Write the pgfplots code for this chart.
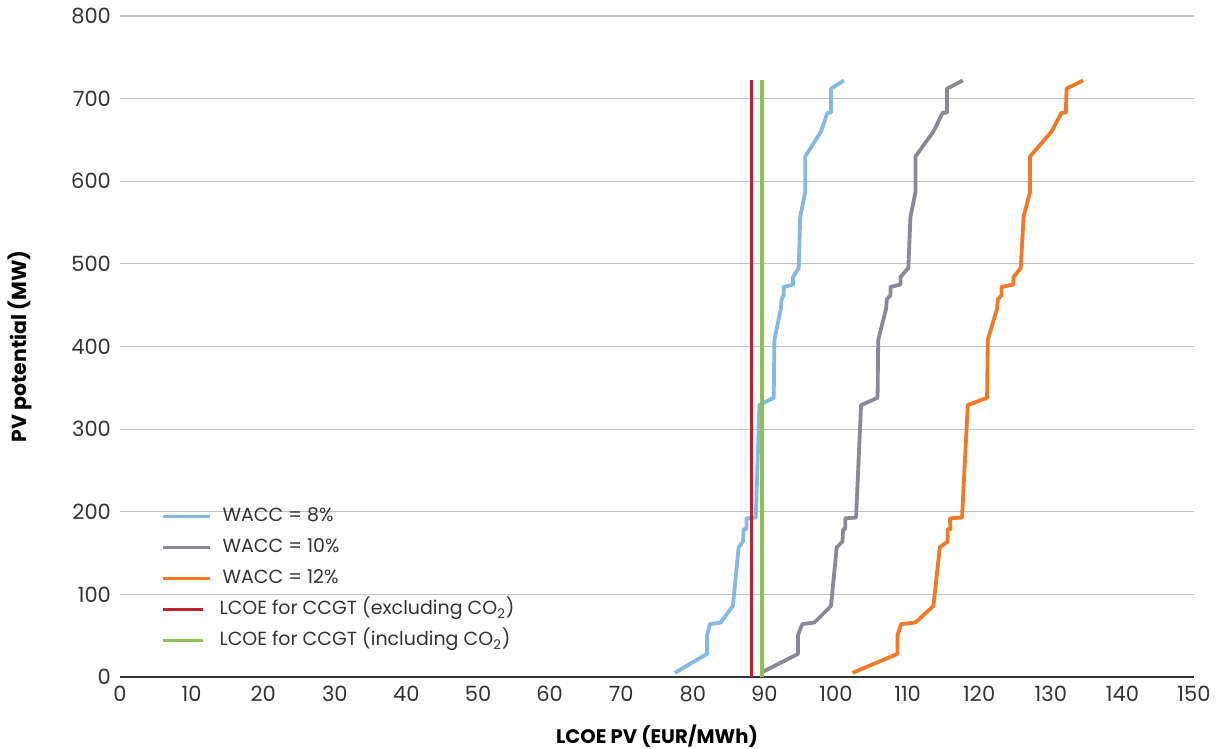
\documentclass[border=0pt]{standalone}
\usepackage{fontspec}
\setmainfont{Poppins}
\usepackage{pgfplots}
\pgfplotsset{compat=1.18}
\definecolor{cblue}{HTML}{85B9E3}
\definecolor{cgray}{HTML}{8A8A96}
\definecolor{corange}{HTML}{F07A25}
\definecolor{cred}{HTML}{C01F2F}
\definecolor{cgreen}{HTML}{8DC154}
\definecolor{ctext}{HTML}{333333}
\pgfplotsset{legline/.style={legend image code/.code={\draw[##1] (0pt,0pt) -- (#1,0pt);}}}
\begin{document}
\begin{tikzpicture}
\path[use as bounding box] (-60pt,-36pt) rectangle (550pt,338.5pt);
\begin{axis}[
  at={(0,0)}, anchor=origin,
  scale only axis, width=537pt, height=330.5pt,
  xmin=0, xmax=150, ymin=0, ymax=800,
  xtick={0,10,...,150}, ytick={0,100,...,800},
  axis lines=left, axis line style={-},
  y axis line style={draw=none},
  x axis line style={draw=ctext, line width=0.9pt},
  major tick length=0pt,
  ymajorgrids, grid style={draw=black!25, line width=0.6pt},
  tick label style={font=\fontsize{10.5}{12}\selectfont, text=ctext},
  /pgf/number format/assume math mode=true,
  xticklabel style={yshift=-1pt},
  yticklabel style={xshift=-1pt},
  xlabel={LCOE PV (EUR/MWh)},
  ylabel={PV potential (MW)},
  xlabel style={font=\bfseries\fontsize{9.8}{11}\selectfont, text=black, at={(axis description cs:0.5,0)}, anchor=center, yshift=-29.5pt},
  ylabel style={font=\bfseries\fontsize{10.2}{11}\selectfont, text=black, at={(axis description cs:-0.0931,0.5)}, anchor=center, rotate=0},
  legend style={draw=none, fill=none, at={(axis description cs:0.032,0.27)}, anchor=north west,
    font=\fontsize{9.5}{11}\selectfont, text=ctext, row sep=2pt,
    nodes={inner sep=2pt, text height=7.5pt, text depth=2pt}},
  legend cell align=left,
  every axis plot/.append style={line width=1.9pt, line join=round},
]
\addplot[cblue, legline=23.5pt] coordinates {
(77.5,5) (82,28) (82,51) (82.4,64) (83.9,66) (85.6,86) (86.4,157) (87.0,164) (87.1,179) (87.5,179) (87.5,192) (88.8,193) (89.3,329) (91.3,338) (91.4,408) (92.3,446) (92.4,457) (92.7,462) (92.7,472) (94.0,475) (94.0,484) (94.8,495) (95.0,557) (95.7,587) (95.7,630) (97.9,660) (98.8,683) (99.3,683) (99.3,712) (101.1,722)
};
\addlegendentry{\hspace{3.5pt}WACC = 8\%}
\addplot[cgray, legline=23.5pt] coordinates {
(89.5,5) (94.7,28) (94.7,51) (95.3,64) (97.0,66) (99.3,86) (100.1,157) (100.9,164) (101.0,179) (101.3,179) (101.3,192) (102.8,193) (103.5,329) (105.8,338) (105.9,408) (107.0,446) (107.1,457) (107.6,462) (107.6,472) (109.0,475) (109.0,484) (110.1,495) (110.4,557) (111.1,587) (111.1,630) (113.6,660) (114.9,683) (115.5,683) (115.5,712) (117.7,722)
};
\addlegendentry{\hspace{3.5pt}WACC = 10\%}
\addplot[corange, legline=23.5pt] coordinates {
(102.3,5) (108.6,28) (108.6,51) (109.1,64) (111.1,66) (113.6,86) (114.5,157) (115.6,164) (115.6,179) (116.0,179) (115.9,192) (117.6,193) (118.4,329) (121.1,338) (121.2,408) (122.5,446) (122.6,457) (123.1,462) (123.1,472) (124.8,475) (124.8,484) (125.8,495) (126.2,557) (127.1,587) (127.1,630) (130.1,660) (131.5,683) (132.1,683) (132.2,712) (134.5,722)
};
\addlegendentry{\hspace{3.5pt}WACC = 12\%}
\addplot[cred, line cap=butt, legline=20pt] coordinates {(88.2,0) (88.2,722)};
\addlegendentry{\hspace{2pt}LCOE for CCGT (excluding CO\textsubscript{2})}
\addplot[cgreen, line cap=butt, legline=20pt] coordinates {(89.7,0) (89.7,722)};
\addlegendentry{\hspace{2pt}LCOE for CCGT (including CO\textsubscript{2})}
\end{axis}
\end{tikzpicture}
\end{document}
